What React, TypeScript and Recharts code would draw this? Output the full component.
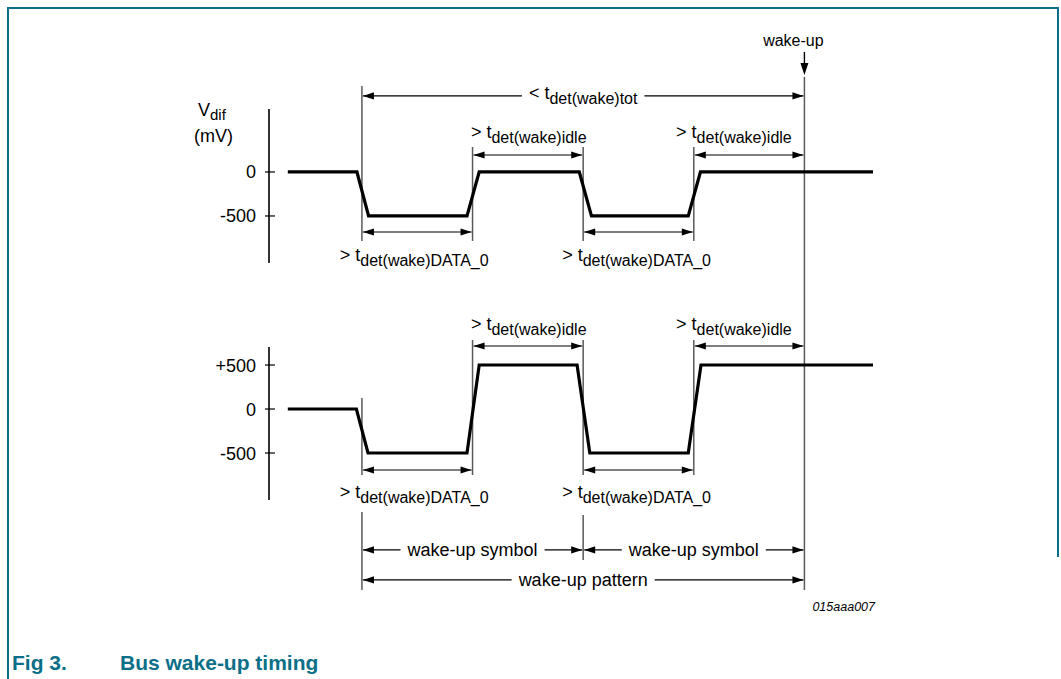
import React from 'react';
import { ComposedChart, Line, XAxis, YAxis, ReferenceLine } from 'recharts';

// time in arbitrary units: 0 = start of first DATA_0 phase, 20 = one wake-up symbol
const T_DOMAIN = [-8.4, 46.2];

// upper trace (Vdif, mV)
const upperT = [-6.7, -0.45, 0.6, 9.5, 10.6, 19.65, 20.75, 29.5, 30.6, 46.2];
const upperV = [0, 0, -500, -500, 0, 0, -500, -500, 0, 0];
const upperTicks = [0, -500];
const upperTickLabels = ['0', '-500'];

// lower trace
const lowerT = [-6.7, -0.5, 0.55, 9.5, 10.6, 19.45, 20.6, 29.5, 30.65, 46.2];
const lowerV = [0, 0, -500, -500, 500, 500, -500, -500, 500, 500];
const lowerTicks = [500, 0, -500];
const lowerTickLabels = ['+500', '0', '-500'];

const UPPER_DOMAIN = [-1455, 1727];
const LOWER_DOMAIN = [-2398, 1239];

// thin gray marker lines: [t, vFrom, vTo]
const upperMarkers = [
  [0, 977, -784],
  [10, 284, -784],
  [20, 284, -784],
  [30, 284, -784],
  [40, 1080, -1455],
];
const lowerMarkers = [
  [0, 125, -750],
  [0, -1170, -2057],
  [10, 784, -750],
  [20, 784, -750],
  [20, -1205, -1716],
  [30, 784, -750],
  [40, 1239, -2057],
];
const upperAxisSpan = [716, -1034];
const lowerAxisSpan = [705, -1034];

type Dim = { t1: number; t2: number; v: number; main: string; sub?: string; labelT?: number; dy?: number };

const upperDims: Dim[] = [
  { t1: 0, t2: 40, v: 864, main: '< t', sub: 'det(wake)tot', dy: 3 },
  { t1: 10, t2: 20, v: 193, main: '> t', sub: 'det(wake)idle', labelT: 9.85, dy: -17 },
  { t1: 30, t2: 40, v: 193, main: '> t', sub: 'det(wake)idle', labelT: 28.4, dy: -17 },
  { t1: 0, t2: 10, v: -682, main: '> t', sub: 'det(wake)DATA_0', labelT: -2.0, dy: 29 },
  { t1: 20, t2: 30, v: -682, main: '> t', sub: 'det(wake)DATA_0', labelT: 18.1, dy: 29 },
];
const lowerDims: Dim[] = [
  { t1: 10, t2: 20, v: 716, main: '> t', sub: 'det(wake)idle', labelT: 9.85, dy: -16 },
  { t1: 30, t2: 40, v: 716, main: '> t', sub: 'det(wake)idle', labelT: 28.4, dy: -16 },
  { t1: 0, t2: 10, v: -693, main: '> t', sub: 'det(wake)DATA_0', labelT: -2.0, dy: 28 },
  { t1: 20, t2: 30, v: -693, main: '> t', sub: 'det(wake)DATA_0', labelT: 18.1, dy: 28 },
  { t1: 0, t2: 20, v: -1602, main: 'wake-up symbol', dy: 6 },
  { t1: 20, t2: 40, v: -1602, main: 'wake-up symbol', dy: 6 },
  { t1: 0, t2: 40, v: -1943, main: 'wake-up pattern', dy: 6 },
];

const FONT = '"Liberation Sans", Arial, Helvetica, sans-serif';
const TEAL = '#0b6f88';
const GRAY = '#5a5a5a';
const MAIN_SIZE = 18;
const SUB_SIZE = 16;

let ctx: CanvasRenderingContext2D | null = null;
const textWidth = (s: string, size: number) => {
  if (!ctx) ctx = document.createElement('canvas').getContext('2d');
  if (!ctx) return s.length * size * 0.55;
  ctx.font = `${size}px ${FONT}`;
  return ctx.measureText(s).width;
};

const head = (x: number, y: number, dir: number) =>
  `${x},${y} ${x - dir * 11},${y - 3.6} ${x - dir * 11},${y + 3.6}`;

const DimShape = ({ p, d }: any) => {
  const { x1, y1, x2 } = p;
  const y = y1;
  const a = Math.min(x1, x2) + 1;
  const b = Math.max(x1, x2) - 1;
  const label = (lx: number, ly: number) => (
    <text x={lx} y={ly} fontFamily={FONT} fontSize={MAIN_SIZE} fill="#000">
      <tspan>{d.main}</tspan>
      {d.sub && (
        <tspan dy={5} fontSize={SUB_SIZE}>
          {d.sub}
        </tspan>
      )}
    </text>
  );
  if (d.labelT === undefined) {
    const w = textWidth(d.main, MAIN_SIZE) + (d.sub ? textWidth(d.sub, SUB_SIZE) : 0);
    const cx = (a + b) / 2;
    return (
      <g>
        <line x1={a} x2={cx - w / 2 - 7} y1={y} y2={y} stroke="#000" strokeWidth={1.2} />
        <line x1={cx + w / 2 + 7} x2={b} y1={y} y2={y} stroke="#000" strokeWidth={1.2} />
        <polygon points={head(a, y, -1)} fill="#000" />
        <polygon points={head(b, y, 1)} fill="#000" />
        {label(cx - w / 2, y + (d.dy ?? 6))}
      </g>
    );
  }
  const lx = x1 + ((d.labelT - d.t1) / (d.t2 - d.t1)) * (x2 - x1);
  return (
    <g>
      <line x1={a} x2={b} y1={y} y2={y} stroke="#000" strokeWidth={1.2} />
      <polygon points={head(a, y, -1)} fill="#000" />
      <polygon points={head(b, y, 1)} fill="#000" />
      {label(lx, y + d.dy)}
    </g>
  );
};

const WakeShape = (p: any) => {
  const { x1, y1, y2 } = p;
  return (
    <g>
      <line x1={x1} x2={x1} y1={y1} y2={y2 - 8} stroke="#000" strokeWidth={1.4} />
      <polygon points={`${x1},${y2} ${x1 - 4},${y2 - 12} ${x1 + 4},${y2 - 12}`} fill="#000" />
      <text x={x1 - 11} y={y1 - 6} textAnchor="middle" fontFamily={FONT} fontSize={16} fill="#000">
        wake-up
      </text>
    </g>
  );
};

const makeTick = (ticks: number[], labels: string[]) => (p: any) => {
  const { x, y, payload } = p;
  const i = ticks.indexOf(payload.value);
  return (
    <g>
      <line x1={x - 4} x2={x + 6} y1={y} y2={y} stroke="#000" strokeWidth={1.2} />
      <text x={x - 13} y={y + 6.5} textAnchor="end" fontFamily={FONT} fontSize={18} fill="#000">
        {labels[i]}
      </text>
    </g>
  );
};

const Trace = ({
  data,
  domain,
  ticks,
  tickLabels,
  markers,
  axisSpan,
  dims,
  height,
  wake,
}: any) => (
  <ComposedChart width={1061} height={height} data={data} margin={{ top: 0, right: 188, bottom: 0, left: 0 }}>
    <XAxis type="number" dataKey="t" domain={T_DOMAIN} allowDataOverflow hide />
    <YAxis
      type="number"
      domain={domain}
      allowDataOverflow
      ticks={ticks}
      interval={0}
      width={269}
      tickSize={0}
      tickMargin={0}
      axisLine={false}
      tickLine={false}
      tick={makeTick(ticks, tickLabels)}
    />
    <ReferenceLine
      segment={[
        { x: T_DOMAIN[0], y: axisSpan[0] },
        { x: T_DOMAIN[0], y: axisSpan[1] },
      ]}
      stroke="#000"
      strokeWidth={1.6}
      ifOverflow="visible"
    />
    {markers.map((m: number[], i: number) => (
      <ReferenceLine
        key={`m${i}`}
        segment={[
          { x: m[0], y: m[1] },
          { x: m[0], y: m[2] },
        ]}
        stroke={GRAY}
        strokeWidth={1.5}
        ifOverflow="visible"
      />
    ))}
    {dims.map((d: Dim, i: number) => (
      <ReferenceLine
        key={`d${i}`}
        segment={[
          { x: d.t1, y: d.v },
          { x: d.t2, y: d.v },
        ]}
        ifOverflow="visible"
        shape={(p: any) => <DimShape p={p} d={d} />}
      />
    ))}
    {wake && (
      <ReferenceLine
        segment={[
          { x: 40, y: 1364 },
          { x: 40, y: 1102 },
        ]}
        ifOverflow="visible"
        shape={(p: any) => <WakeShape {...p} />}
      />
    )}
    <Line
      type="linear"
      dataKey="v"
      stroke="#000"
      strokeWidth={3.2}
      strokeLinejoin="miter"
      dot={false}
      activeDot={false}
      isAnimationActive={false}
    />
  </ComposedChart>
);

export default function App() {
  const upperData = upperT.map((t, i) => ({ t, v: upperV[i] }));
  const lowerData = lowerT.map((t, i) => ({ t, v: lowerV[i] }));
  return (
    <div style={{ position: 'absolute', left: 0, top: 0, width: 1061, height: 679, background: '#fff', fontFamily: FONT }}>
      <div style={{ position: 'absolute', left: 7, top: 7, width: 1050, height: 672, borderTop: `2px solid ${TEAL}`, borderLeft: `2px solid ${TEAL}` }} />
      <div style={{ position: 'absolute', left: 1057, top: 7, width: 0, height: 550, borderLeft: `2px solid ${TEAL}` }} />
      <div style={{ position: 'absolute', left: 0, top: 20 }}>
        <Trace
          data={upperData}
          domain={UPPER_DOMAIN}
          ticks={upperTicks}
          tickLabels={upperTickLabels}
          markers={upperMarkers}
          axisSpan={upperAxisSpan}
          dims={upperDims}
          height={280}
          wake
        />
      </div>
      <div style={{ position: 'absolute', left: 0, top: 300 }}>
        <Trace
          data={lowerData}
          domain={LOWER_DOMAIN}
          ticks={lowerTicks}
          tickLabels={lowerTickLabels}
          markers={lowerMarkers}
          axisSpan={lowerAxisSpan}
          dims={lowerDims}
          height={320}
        />
      </div>
      <svg width={1061} height={679} style={{ position: 'absolute', left: 0, top: 0, pointerEvents: 'none' }}>
        <text x={198} y={116} fontFamily={FONT} fontSize={18} fill="#000">
          <tspan>V</tspan>
          <tspan dy={4} fontSize={15}>dif</tspan>
        </text>
        <text x={194} y={142} fontFamily={FONT} fontSize={18} fill="#000">
          (mV)
        </text>
        <text x={875} y={611} textAnchor="end" fontFamily={FONT} fontSize={12.5} fontStyle="italic" fill="#000">
          015aaa007
        </text>
        <text x={12} y={670} fontFamily={FONT} fontSize={21} fontWeight="bold" fill={TEAL}>
          Fig 3.
        </text>
        <text x={120} y={670} fontFamily={FONT} fontSize={21} fontWeight="bold" fill={TEAL}>
          Bus wake-up timing
        </text>
      </svg>
    </div>
  );
}
